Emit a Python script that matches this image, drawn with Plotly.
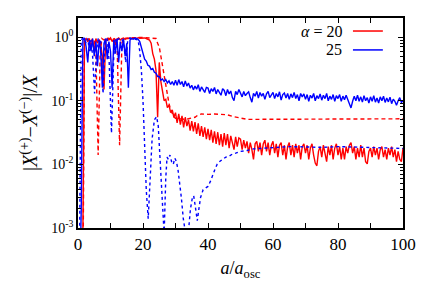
import numpy as np
import plotly.graph_objects as go

# ---------------- data ----------------
# solid curves sampled every 0.5 in a/a_osc, rows of 10 values = 5 units
red_solid = [
    1e-4, 1e-4, 1e-4, .0008, .9, .95, .85, .95, .7, .9,
    .6, .95, .8, .92, .75, .5, .15, .85, .95, .9,
    .97, .85, .95, .75, .93, .97, .9, .95, .97, .92,
    .96, .95, .97, .94, .96, .97, .95, .98, .96, .97,
    .96, .97, .95, .93, .9, .8, .55, .45, .3, .055,
    .4, .2, .15, .1, .105, .078, .085, .065, .072, .055,
    .065, .045, .062, .042, .058, .038, .055, .04, .05, .034,
    .048, .033, .046, .03, .044, .028, .04, .027, .038, .025,
    .036, .024, .035, .022, .033, .021, .032, .02, .03, .019,
    .031, .02, .03, .018, .028, .021, .017, .027, .019, .026,
    .025, .017, .024, .018, .023, .015, .022, .017, .012, .021,
    .023, .016, .022, .014, .021, .024, .016, .022, .014, .02,
    .023, .015, .021, .013, .02, .022, .014, .02, .012, .019,
    .022, .014, .02, .013, .021, .015, .02, .012, .019, .021,
    .015, .02, .012, .018, .021, .014, .0105, .0095, .016, .019,
    .013, .02, .015, .011, .019, .014, .02, .012, .018, .021,
    .014, .019, .012, .018, .012, .019, .015, .02, .022, .015,
    .019, .012, .018, .013, .02, .013, .018, .011, .0102, .016,
    .018, .013, .019, .014, .018, .012, .017, .019, .013, .017,
    .012, .018, .014, .019, .013, .017, .011, .016, .012, .011,
    .018,
]
blue_solid = [
    1e-4, 1e-4, .002, .9, .97, .7, .4, .9, .6, .95,
    .5, .85, .35, .9, .6, .16, .8, .95, .45, .85,
    .6, .16, .9, .55, .95, .4, .85, .6, .95, .5,
    .8, .16, .9, .95, .93, .97, .95, .92, .85, .7,
    .55, .45, .42, .36, .35, .31, .32, .28, .27, .24,
    .24, .21, .22, .2, .215, .19, .205, .18, .2, .175,
    .21, .175, .215, .18, .2, .165, .205, .17, .19, .158,
    .175, .148, .17, .152, .178, .14, .165, .15, .135, .162,
    .158, .13, .155, .14, .162, .128, .15, .135, .122, .155,
    .145, .12, .15, .128, .142, .112, .1, .14, .125, .15,
    .135, .115, .14, .12, .13, .138, .112, .095, .13, .118,
    .14, .11, .135, .118, .13, .105, .128, .14, .112, .125,
    .135, .108, .13, .115, .138, .102, .125, .132, .11, .13,
    .105, .128, .112, .135, .108, .125, .1, .13, .115, .128,
    .105, .125, .098, .122, .11, .13, .1, .12, .108, .128,
    .102, .122, .108, .13, .1, .118, .105, .125, .098, .12,
    .108, .125, .098, .118, .104, .122, .105, .092, .077, .098,
    .118, .1, .122, .098, .115, .095, .12, .1, .112, .092,
    .115, .098, .12, .095, .11, .092, .115, .1, .118, .094,
    .11, .096, .114, .09, .106, .098, .085, .1, .112, .094,
    .1,
]
a_solid = [0.5 * i for i in range(201)]

red_dash_a = [0, 1.5, 2, 2.5, 3, 3.5, 4, 4.5, 5, 5.5, 6.2, 6.8, 7.3, 8, 9, 10, 11, 12,
              12.8, 13.5, 14, 15, 16, 17, 18, 19, 20, 21, 22, 23, 24, 24.5, 25, 25.5,
              26, 26.5, 27, 27.5, 28, 28.5, 29, 29.5, 30, 31, 32, 33, 34, 35, 36, 37,
              38, 40, 42, 44, 46, 48, 50, 52, 55, 60, 70, 80, 90, 100]
red_dash = [1e-4, 1e-4, .9, .95, .9, .95, .85, .95, .9, .6, .014, .5, .95, .9, .97, .93,
            .97, .85, .02, .8, .97, .95, .98, .97, .98, .99, .98, .99, .98, .97, .95,
            .8, .7, .5, .35, .25, .17, .12, .09, .072, .062, .056, .053, .052, .052,
            .051, .052, .053, .055, .06, .062, .061, .062, .061, .06, .056, .053,
            .051, .051, .051, .051, .051, .051, .052]

blue_dash_a = [0, 0.5, 1, 1.5, 2, 2.5, 3, 3.5, 4, 4.5, 5.1, 5.7, 6.2, 7, 7.7, 8.3, 9,
               9.6, 10.3, 11, 11.5, 12, 13, 14, 14.7, 15.3, 16, 17, 18, 18.5, 19, 19.5,
               20, 20.5, 21, 21.6, 22.2, 22.8, 23.5, 24.2, 24.7, 25.2, 25.8, 26.5, 27,
               27.4, 27.8, 28.3, 28.8, 29.3, 29.8, 30.3, 30.8, 31.3, 31.8, 32.4, 33,
               33.5, 34, 34.6, 35.2, 35.6, 36.2, 36.7, 37.2, 37.7, 38.5, 39.2, 40,
               40.8, 41.5, 42.2, 42.8, 43.5, 44.5, 45.5, 46.5, 47.5, 48.5, 50, 52, 54,
               56, 58, 60, 65, 70, 75, 80, 85, 90, 95, 100]
blue_dash = [1e-4, .0008, .9, .97, .95, .8, .95, .6, .9, .5, .13, .6, .95, .85, .13, .8,
             .95, .4, .031, .5, .95, .9, .97, .85, .4, .9, .97, .95, .93, .9, .6, .3,
             .1, .02, .004, .0014, .006, .025, .05, .056, .04, .012, .003, .0008,
             .006, .013, .012, .014, .011, .01, .0125, .011, .008, .005, .003, .0014,
             .0008, .0006, .0009, .002, .003, .0032, .002, .0013, .002, .003, .004,
             .0042, .0045, .0055, .007, .0085, .01, .011, .012, .013, .0135, .0145,
             .015, .016, .0165, .0175, .0178, .018, .0185, .019, .0188, .0185, .019,
             .0188, .0185, .018, .0178]

x_tickvals = [0, 20, 40, 60, 80, 100]
x_ticktext = ["0", "20", "40", "60", "80", "100"]
x_minorvals = [10, 30, 50, 70, 90]
y_tickvals = [1e-3, 1e-2, 1e-1, 1]
y_ticktext = ["10<sup>-3</sup>", "10<sup>-2</sup>", "10<sup>-1</sup>", "10<sup>0</sup>"]
legend_labels = ["<i>α</i> = 20", "25"]

RED = "#ff0000"
BLUE = "#0000ff"

fig = go.Figure()
fig.add_trace(go.Scatter(x=a_solid, y=red_solid, mode="lines",
                         line=dict(color=RED, width=1.4)))
fig.add_trace(go.Scatter(x=red_dash_a, y=red_dash, mode="lines",
                         line=dict(color=RED, width=1.4, dash="4px,3px")))
fig.add_trace(go.Scatter(x=a_solid, y=blue_solid, mode="lines",
                         line=dict(color=BLUE, width=1.4)))
fig.add_trace(go.Scatter(x=blue_dash_a, y=blue_dash, mode="lines",
                         line=dict(color=BLUE, width=1.4, dash="3px,3px")))

minor_vals = [m * 10.0 ** e for e in range(-3, 1) for m in range(2, 10)]

FONT = "Liberation Serif"
fig.update_layout(
    width=436, height=305,
    margin=dict(l=78, r=33, t=18, b=77),
    plot_bgcolor="white", paper_bgcolor="white",
    showlegend=False,
    font=dict(family=FONT, color="black"),
    xaxis=dict(range=[0, 100], tickvals=x_tickvals, ticktext=x_ticktext,
               ticks="inside", ticklen=5, tickcolor="black",
               minor=dict(tickvals=x_minorvals, ticks="inside", ticklen=5,
                          tickcolor="black", showgrid=False),
               showline=True, linecolor="black", linewidth=1.5, mirror="allticks",
               showgrid=False, zeroline=False, automargin=False,
               tickfont=dict(size=17, family=FONT),
               title=dict(text="<i>a</i>/<i>a</i><sub>osc</sub>",
                          font=dict(size=18, family=FONT), standoff=8)),
    yaxis=dict(type="log", range=[-3, 0.3], tickvals=y_tickvals, ticktext=y_ticktext,
               ticks="inside", ticklen=5, tickcolor="black",
               minor=dict(tickvals=minor_vals, ticks="inside", ticklen=3,
                          tickcolor="black", showgrid=False),
               showline=True, linecolor="black", linewidth=1.5, mirror="allticks",
               showgrid=False, zeroline=False, automargin=False,
               tickfont=dict(size=14, family=FONT),
               title=dict(text="|<i>X</i><sup>(+)</sup>−<i>X</i><sup>(−)</sup>|/<i>X</i>",
                          font=dict(size=20, family=FONT), standoff=8)),
)

for lbl, yy, col in zip(legend_labels, [0.938, 0.848], [RED, BLUE]):
    fig.add_annotation(x=0.818, y=yy, xref="paper", yref="paper", text=lbl,
                       showarrow=False, xanchor="right", yanchor="middle",
                       font=dict(size=16, family=FONT, color="black"))
    fig.add_shape(type="line", xref="paper", yref="paper", x0=0.846, x1=0.938,
                  y0=yy, y1=yy, line=dict(color=col, width=1.5))

fig.write_html("out.html", config={"displayModeBar": False},
               post_script="document.body.style.margin='0';")
